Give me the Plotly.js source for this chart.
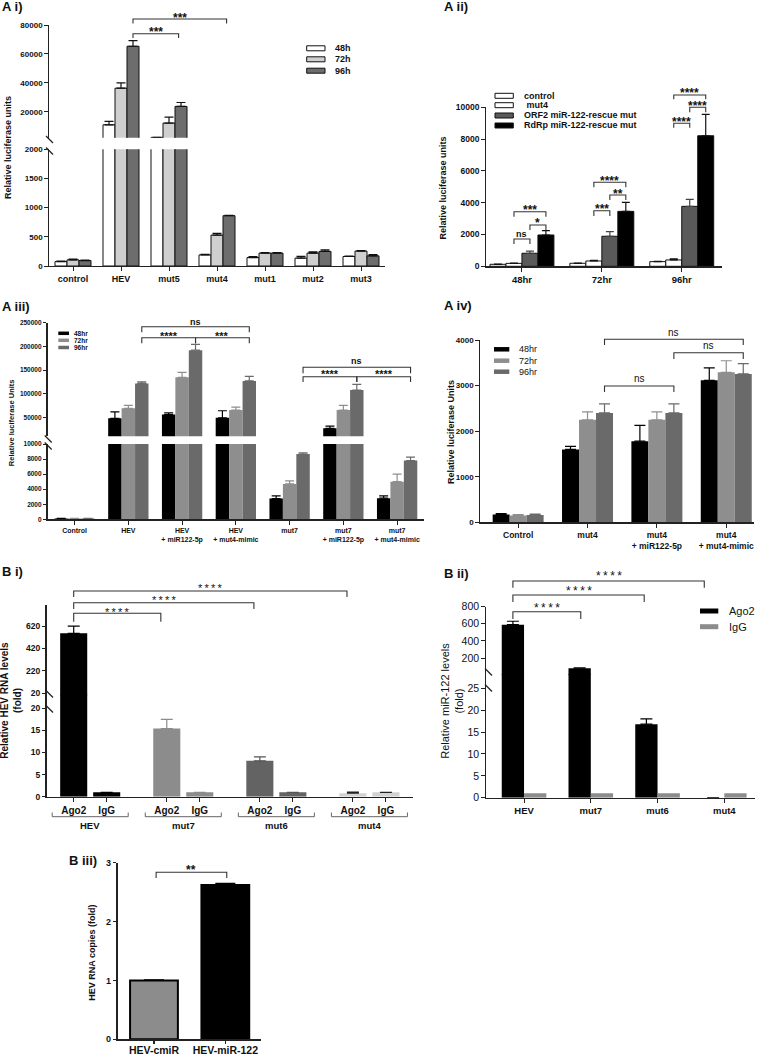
<!DOCTYPE html>
<html>
<head>
<meta charset="utf-8">
<script src="https://cdn.plot.ly/plotly-3.0.1.min.js"></script>
<style>html,body{margin:0;padding:0;background:#fff;}#chart{width:759px;height:1055px;}</style>
</head>
<body>
<div id="chart"></div>
<script>
// ================= DATA =================
// A i
const aiCats = ['control','HEV','mut5','mut4','mut1','mut2','mut3'];
const aiSeries = ['48h','72h','96h'];
const ai48 = [76, 11000, 2300, 190, 145, 135, 163];
const ai72 = [105, 36300, 12200, 530, 221, 221, 256];
const ai96 = [93, 65300, 23700, 862, 221, 250, 174];
const ai48Err = [6, 2300, 0, 8, 15, 30, 5];
const ai72Err = [12, 3700, 4100, 30, 8, 20, 10];
const ai96Err = [6, 3900, 2700, 8, 8, 25, 20];
const aiLowTicks = [0, 500, 1000, 1500, 2000];
const aiUpTicks = [20000, 40000, 60000, 80000];

// A ii
const aiiCats = ['48hr','72hr','96hr'];
const aiiSeries = ['control','mut4','ORF2 miR-122-rescue mut','RdRp miR-122-rescue mut'];
const aiiControl = [125, 190, 295];
const aiiMut4 = [185, 335, 400];
const aiiORF2 = [820, 1890, 3770];
const aiiRdRp = [1970, 3455, 8210];
const aiiControlErr = [10, 12, 15];
const aiiMut4Err = [12, 40, 70];
const aiiORF2Err = [140, 290, 440];
const aiiRdRpErr = [270, 565, 1340];
const aiiTicks = [0, 2000, 4000, 6000, 8000, 10000];

// A iii
const aiiiCats = ['Control','HEV','HEV<br>+ miR122-5p','HEV<br>+ mut4-mimic','mut7','mut7<br>+ miR122-5p','mut7<br>+ mut4-mimic'];
const aiiiSeries = ['48hr','72hr','96hr'];
const aiii48 = [120, 48000, 56300, 49000, 2750, 26800, 2800];
const aiii72 = [100, 69000, 134500, 65400, 4700, 65400, 5000];
const aiii96 = [110, 121700, 192000, 127000, 8670, 107600, 7800];
const aiii48Err = [15, 13800, 3500, 15000, 350, 4800, 300];
const aiii72Err = [15, 6500, 10500, 6300, 400, 9900, 1000];
const aiii96Err = [15, 3300, 12000, 9500, 170, 12000, 450];
const aiiiLowTicks = [0, 2000, 4000, 6000, 8000, 10000];
const aiiiUpTicks = [50000, 100000, 150000, 200000, 250000];

// A iv
const aivCats = ['Control','mut4','mut4<br>+ miR122-5p','mut4<br>+ mut4-mimic'];
const aivSeries = ['48hr','72hr','96hr'];
const aiv48 = [170, 1600, 1780, 3115];
const aiv72 = [150, 2250, 2250, 3290];
const aiv96 = [160, 2400, 2400, 3255];
const aiv48Err = [20, 65, 345, 275];
const aiv72Err = [20, 175, 175, 255];
const aiv96Err = [20, 200, 200, 225];
const aivTicks = [0, 1000, 2000, 3000, 4000];

// B i
const biGroups = ['HEV','mut7','mut6','mut4'];
const biPair = ['Ago2','IgG'];
const biAgo2 = [555, 15.4, 8.1, 0.8];
const biAgo2Err = [65, 2.1, 0.9, 0.25];
const biIgG = [1, 1, 1, 1];
const biLowTicks = [0, 5, 10, 15, 20];
const biUpTicks = [20, 220, 420, 620];

// B ii
const biiCats = ['HEV','mut7','mut6','mut4'];
const biiSeries = ['Ago2','IgG'];
const biiAgo2 = [590, 80, 16.8, 0];
const biiAgo2Err = [40, 6, 1.2, 0];
const biiIgG = [1, 1, 1, 1];
const biiLowTicks = [0, 5, 10, 15, 20, 25];
const biiUpTicks = [200, 400, 600, 800];

// B iii
const biiiCats = ['HEV-cmiR','HEV-miR-122'];
const biiiVals = [1.0, 2.62];
const biiiErr = [0.01, 0.03];
const biiiTicks = [0, 1, 2, 3];

// ================= HELPERS =================
const W = 759, H = 1055;
const FONT = '"Liberation Sans", Arial, Helvetica, sans-serif';
const px = v => v / W;
const py = v => 1 - v / H;
const fnt = (size, bold, color) => ({family: FONT, size: size, color: color || '#111', weight: bold ? 'bold' : 'normal'});

const traces = [], shapes = [], annotations = [];
const layout = {
  width: W, height: H, autosize: false,
  margin: {l: 0, r: 0, t: 0, b: 0, pad: 0},
  paper_bgcolor: '#ffffff', plot_bgcolor: 'rgba(0,0,0,0)',
  showlegend: false, barmode: 'overlay',
  font: {family: FONT, color: '#111'},
  shapes: shapes, annotations: annotations
};

function xp(g, v) { return g.x0 + (v - g.xr[0]) / (g.xr[1] - g.xr[0]) * (g.x1 - g.x0); }
// in the upper part of a broken axis, only the bars that pass the lower part are drawn
function above(vals, thr, ref) { return vals.map((v, i) => ((ref || vals)[i] > thr ? v : null)); }

function xAxis(g, anchor, extra) {
  return Object.assign({
    domain: [px(g.x0), px(g.x1)], range: g.xr, anchor: anchor,
    showline: true, linecolor: '#222', linewidth: 1.3,
    ticks: 'outside', ticklen: 4, tickwidth: 1, tickcolor: '#222',
    showgrid: false, zeroline: false, fixedrange: true, tickangle: 0
  }, extra);
}
function yAxis(seg, anchor, ticks, tfont, lw) {
  return {
    domain: [py(seg.y0), py(seg.y1)], range: seg.r, anchor: anchor,
    showline: true, linecolor: '#222', linewidth: lw || 1.3,
    ticks: 'outside', ticklen: 3.5, tickwidth: 1, tickcolor: '#222',
    showgrid: false, zeroline: false, fixedrange: true,
    tickmode: 'array', tickvals: ticks, ticktext: ticks.map(String), tickfont: tfont
  };
}
function bars(o) {
  // no error bar for empty (zero / hidden) bars
  const err = o.err ? o.err.map((e, i) => (o.y[i] ? e : null)) : null;
  traces.push({
    type: 'bar', name: o.name, x: o.x, y: o.y, width: o.w, offset: o.off,
    xaxis: o.xa, yaxis: o.ya, hoverinfo: 'skip', showlegend: false,
    marker: {color: o.fill, line: {color: o.edge || '#000', width: o.edgeW || 0}},
    error_y: err ? {type: 'data', symmetric: false, array: err, arrayminus: err.map(e => (e === null ? null : 0)),
      color: o.ec, thickness: 1.2, width: o.cap, visible: true} : {visible: false}
  });
}
function text(x, y, t, size, bold, opts) {
  annotations.push(Object.assign({xref: 'paper', yref: 'paper', x: px(x), y: py(y), text: t,
    showarrow: false, xanchor: 'center', yanchor: 'middle', font: fnt(size, bold)}, opts || {}));
}
function bracket(g, a, b, yLine, yEnd, label, yLab, size, bold) {
  const x1 = xp(g, a), x2 = xp(g, b);
  shapes.push({type: 'path', xref: 'paper', yref: 'paper',
    path: 'M' + px(x1) + ',' + py(yEnd) + 'L' + px(x1) + ',' + py(yLine) + 'L' + px(x2) + ',' + py(yLine) + 'L' + px(x2) + ',' + py(yEnd),
    line: {color: '#333', width: 1.1}});
  const star = label.indexOf('*') >= 0;
  text((x1 + x2) / 2, yLab + (star ? 0.24 * size : -0.08 * size), label, size, bold);
}
function brk(x, y) {
  shapes.push({type: 'line', xref: 'paper', yref: 'paper', x0: px(x - 3), y0: py(y - 3.5), x1: px(x + 4), y1: py(y + 3.5),
    line: {color: '#222', width: 1.2}});
}
function legendBox(x0, x1, yc, h, fill, edge) {
  shapes.push({type: 'rect', xref: 'paper', yref: 'paper', x0: px(x0), x1: px(x1), y0: py(yc + h / 2), y1: py(yc - h / 2),
    fillcolor: fill, line: {color: edge || fill, width: edge ? 1 : 0}});
}

// ================= A i =================
const gAi = {x0: 49, x1: 385, xr: [-0.5, 6.5], low: {y0: 266, y1: 149.3, r: [0, 2000]}, up: {y0: 137.7, y1: 25, r: [2070, 80000]}};
layout.xaxis = xAxis(gAi, 'y', {type: 'category', categoryarray: aiCats, tickfont: fnt(9, true)});
layout.yaxis = yAxis(gAi.low, 'x', aiLowTicks, fnt(8, true));
layout.yaxis2 = yAxis(gAi.up, 'x', aiUpTicks, fnt(8, true));
const aiVals = [ai48, ai72, ai96], aiErrs = [ai48Err, ai72Err, ai96Err];
const aiFill = ['#ffffff', '#cfcfcf', '#6d6d6d'];
aiSeries.forEach((s, i) => {
  const base = {name: s, x: aiCats, fill: aiFill[i], edge: '#111', edgeW: 1, w: 0.25, off: -0.375 + 0.25 * i, xa: 'x', ec: '#111', cap: 4.5};
  bars(Object.assign({}, base, {y: aiVals[i], err: aiErrs[i], ya: 'y'}));
  bars(Object.assign({}, base, {y: above(aiVals[i], gAi.low.r[1]), err: above(aiErrs[i], gAi.low.r[1], aiVals[i]), ya: 'y2'}));
});
aiSeries.forEach((s, i) => { const yc = [48.3, 59.3, 70.7][i]; legendBox(306.7, 325, yc, 5, aiFill[i], '#111'); text(333, yc, s, 9, true, {xanchor: 'left'}); });
bracket(gAi, 1.25, 3.2, 19, 23.5, '***', 14.7, 12, true);
bracket(gAi, 1.25, 2.2, 33.7, 38, '***', 29.3, 12, true);
brk(49, 139.5); brk(49, 151);
text(7.5, 147.5, 'Relative luciferase units', 9, true, {textangle: -90});
text(0, 7, 'A i)', 13, true, {xanchor: 'left'});

// ================= A ii =================
const gAii = {x0: 486, x1: 721.7, xr: [-0.45, 2.5], y0: 266.3, y1: 107.3, r: [0, 10000]};
layout.xaxis2 = xAxis(gAii, 'y3', {type: 'category', categoryarray: aiiCats, tickfont: fnt(9.5, true)});
layout.yaxis3 = yAxis(gAii, 'x2', aiiTicks, fnt(8.5, true));
const aiiVals = [aiiControl, aiiMut4, aiiORF2, aiiRdRp], aiiErrs = [aiiControlErr, aiiMut4Err, aiiORF2Err, aiiRdRpErr];
const aiiFill = ['#ffffff', '#ffffff', '#5a5a5a', '#000000'];
const aiiErrCol = ['#111', '#111', '#444', '#111'];
aiiSeries.forEach((s, i) => bars({name: s, x: aiiCats, y: aiiVals[i], err: aiiErrs[i], fill: aiiFill[i], edge: '#111', edgeW: 1,
  w: 0.2, off: -0.4 + 0.2 * i, xa: 'x2', ya: 'y3', ec: aiiErrCol[i], cap: 4}));
aiiSeries.forEach((s, i) => { const yc = [95.8, 105.2, 115.5, 125.5][i]; legendBox(495, 513.3, yc, 5, aiiFill[i], '#111');
  text(521.7, yc, (i === 1 ? '\u00a0' : '') + s, 9, true, {xanchor: 'left'}); });
[0, 1, 2].forEach(c => {
  const L = [[239, 244, 235, 211.7, 216.7, 206.7, 225, 230, 220.5, 'ns', '*', '***'],
             [210.7, 216, 206, 182.3, 187.3, 178.3, 195, 200, 190.7, '***', '**', '****'],
             [123.3, 127.7, 118.7, 95, 99.3, 90, 107.3, 112.3, 102.7, '****', '****', '****']][c];
  bracket(gAii, c - 0.1, c + 0.1, L[0], L[1], L[9], L[2], L[9] === 'ns' ? 9 : 12, true);
  bracket(gAii, c + 0.1, c + 0.3, L[6], L[7], L[10], L[8], 12, true);
  bracket(gAii, c - 0.1, c + 0.3, L[3], L[4], L[11], L[5], 12, true);
});
text(443.3, 188.3, 'Relative luciferase units', 9, true, {textangle: -90});
text(441.7, 7, 'A ii)', 13, true, {xanchor: 'left'});

// ================= A iii =================
const gAiii = {x0: 47.7, x1: 424, xr: [-0.5, 6.5], low: {y0: 519.3, y1: 444, r: [0, 10000]}, up: {y0: 436.3, y1: 322.7, r: [10000, 250000]}};
layout.xaxis3 = xAxis(gAiii, 'y4', {type: 'category', categoryarray: aiiiCats, tickfont: fnt(7, true)});
layout.yaxis4 = yAxis(gAiii.low, 'x3', aiiiLowTicks, fnt(6.5, true));
layout.yaxis5 = yAxis(gAiii.up, 'x3', aiiiUpTicks, fnt(6.5, true));
const aiiiVals = [aiii48, aiii72, aiii96], aiiiErrs = [aiii48Err, aiii72Err, aiii96Err];
const tFill = ['#000000', '#8e8e8e', '#6a6a6a'];
aiiiSeries.forEach((s, i) => {
  const base = {name: s, x: aiiiCats, fill: tFill[i], w: 0.25, off: -0.375 + 0.25 * i, xa: 'x3', ec: tFill[i], cap: 4.5};
  bars(Object.assign({}, base, {y: aiiiVals[i], err: aiiiErrs[i], ya: 'y4'}));
  bars(Object.assign({}, base, {y: above(aiiiVals[i], gAiii.low.r[1]), err: above(aiiiErrs[i], gAiii.low.r[1], aiiiVals[i]), ya: 'y5'}));
});
aiiiSeries.forEach((s, i) => { const yc = [333.3, 340.3, 347.5][i]; legendBox(58.3, 69, yc, 3.5, tFill[i]); text(71.7, yc, s, 6.5, true, {xanchor: 'left'}); });
bracket(gAiii, 1.25, 3.25, 326.7, 332.3, 'ns', 322.3, 9, true);
bracket(gAiii, 1.25, 2.25, 337.7, 343.3, '****', 333.3, 11, true);
bracket(gAiii, 2.25, 3.25, 337.7, 343.3, '***', 333.3, 11, true);
bracket(gAiii, 4.25, 6.25, 367.3, 373.3, 'ns', 361.7, 9, true);
bracket(gAiii, 4.25, 5.25, 376.7, 382, '****', 371.7, 11, true);
bracket(gAiii, 5.25, 6.25, 376.7, 382, '****', 371.7, 11, true);
brk(47.7, 439); brk(47.7, 446);
text(11.7, 422.5, 'Relative luciferase Units', 7.5, true, {textangle: -90});
text(0, 306.7, 'A iii)', 13, true, {xanchor: 'left'});

// ================= A iv =================
const gAiv = {x0: 480, x1: 754, xr: [-0.55, 3.4], y0: 522.3, y1: 340, r: [0, 4000]};
layout.xaxis4 = xAxis(gAiv, 'y6', {type: 'category', categoryarray: aivCats, tickfont: fnt(8.5, true)});
layout.yaxis6 = yAxis(gAiv, 'x4', aivTicks, fnt(8, true));
const aivVals = [aiv48, aiv72, aiv96], aivErrs = [aiv48Err, aiv72Err, aiv96Err];
aivSeries.forEach((s, i) => bars({name: s, x: aivCats, y: aivVals[i], err: aivErrs[i], fill: tFill[i],
  w: 0.245, off: -0.3675 + 0.245 * i, xa: 'x4', ya: 'y6', ec: tFill[i], cap: 5.5}));
aivSeries.forEach((s, i) => { const yc = [349.3, 360.7, 371.7][i]; legendBox(494, 509.3, yc, 4.5, tFill[i]); text(516.7, yc, s, 9, false, {xanchor: 'left'}); });
bracket(gAiv, 1.245, 3.245, 339.3, 345, 'ns', 333.3, 10, false);
bracket(gAiv, 2.245, 3.245, 352.7, 359, 'ns', 346.7, 10, false);
bracket(gAiv, 1.245, 2.245, 386, 392, 'ns', 379.3, 10, false);
text(450.5, 432.5, 'Relative luciferase Units', 9, true, {textangle: -90});
text(441.7, 305, 'A iv)', 13, true, {xanchor: 'left'});

// ================= B i =================
const gBi = {x0: 46.7, x1: 413, xr: [-0.818, 10.28], low: {y0: 796.7, y1: 694.5, r: [0, 23.1]}, up: {y0: 695.5, y1: 605, r: [0, 808]}};
const biStep = 2.82;
const biPos = [], biTxt = [];
biGroups.forEach((g, k) => biPair.forEach((p, j) => { biPos.push(k * biStep + j); biTxt.push(p); }));
layout.xaxis5 = xAxis(gBi, 'y7', {type: 'linear', tickmode: 'array', tickvals: biPos, ticktext: biTxt, tickfont: fnt(10, true)});
layout.yaxis7 = yAxis(gBi.low, 'x5', biLowTicks, fnt(8.5, true));
layout.yaxis8 = yAxis(gBi.up, 'x5', biUpTicks, fnt(8.5, true));
const biFill = ['#000000', '#8c8c8c', '#636363', '#d2d2d2'];
const biErrCol = ['#000000', '#8c8c8c', '#555555', '#222222'];
biGroups.forEach((g, k) => {
  const vals = [biAgo2[k], biIgG[k]], errs = [biAgo2Err[k], 0];
  const base = {name: g, x: [k * biStep, k * biStep + 1], fill: biFill[k], w: 0.82, off: -0.41, xa: 'x5', ec: biErrCol[k], cap: 6};
  bars(Object.assign({}, base, {y: vals, err: errs, ya: 'y7'}));
  bars(Object.assign({}, base, {y: above(vals, gBi.low.r[1]), err: above(errs, gBi.low.r[1], vals), ya: 'y8'}));
});
biGroups.forEach((g, k) => {
  const c = xp(gBi, k * biStep + 0.5);
  shapes.push({type: 'path', xref: 'paper', yref: 'paper',
    path: 'M' + px(c - 38) + ',' + py(812.5) + 'L' + px(c - 38) + ',' + py(816.7) + 'L' + px(c + 38) + ',' + py(816.7) + 'L' + px(c + 38) + ',' + py(812.5),
    line: {color: '#666', width: 1}});
  text(c, 825.5, g, 9.5, true);
});
const S4 = '*\u2009*\u2009*\u2009*';
bracket(gBi, 0, 2.64, 613.3, 621.7, S4, 609.5, 11, false);
bracket(gBi, 0, 5.46, 602.7, 609, S4, 597.7, 11, false);
bracket(gBi, 0, 8.28, 591, 597, S4, 585, 11, false);
brk(49, 694); brk(49, 709);
text(11, 700.7, 'Relative HEV RNA levels<br>(fold)', 10, true, {textangle: -90});
text(0, 571, 'B i)', 13, true, {xanchor: 'left'});

// ================= B ii =================
const gBii = {x0: 486, x1: 755, xr: [-0.57, 3.46], low: {y0: 797.7, y1: 674.1, r: [0, 28.25]}, up: {y0: 675.1, y1: 606.7, r: [0, 800]}};
layout.xaxis6 = xAxis(gBii, 'y9', {type: 'category', categoryarray: biiCats, tickfont: fnt(9.5, true)});
layout.yaxis9 = yAxis(gBii.low, 'x6', biiLowTicks, fnt(10.5, false));
layout.yaxis10 = yAxis(gBii.up, 'x6', biiUpTicks, fnt(10.5, false));
const biiVals = [biiAgo2, biiIgG], biiErrs = [biiAgo2Err, null];
const biiFill = ['#000000', '#8c8c8c'];
biiSeries.forEach((s, i) => {
  const base = {name: s, x: biiCats, fill: biiFill[i], w: 0.334, off: -0.334 + 0.334 * i, xa: 'x6', ec: biiFill[i], cap: 6};
  bars(Object.assign({}, base, {y: biiVals[i], err: biiErrs[i], ya: 'y9'}));
  bars(Object.assign({}, base, {y: above(biiVals[i], gBii.low.r[1]), err: biiErrs[i] ? above(biiErrs[i], gBii.low.r[1], biiVals[i]) : null, ya: 'y10'}));
});
biiSeries.forEach((s, i) => { const yc = [611, 626.7][i]; legendBox(700, 718.3, yc, 5, biiFill[i]); text(726.7, yc, s, 11, false, {xanchor: 'left'}); });
bracket(gBii, -0.167, 0.85, 611.7, 619, S4, 605, 12, false);
bracket(gBii, -0.167, 1.8, 595, 602, S4, 588, 12, false);
bracket(gBii, -0.167, 2.7, 581, 587.7, S4, 573.3, 12, false);
brk(488, 672); brk(488, 688);
text(452, 700.8, 'Relative miR-122 levels<br>(fold)', 11, false, {textangle: -90});
text(441.7, 573.3, 'B ii)', 13, true, {xanchor: 'left'});

// ================= B iii =================
const gBiii = {x0: 118.3, x1: 261, xr: [-0.5, 1.5], y0: 1039.3, y1: 862.7, r: [0, 3]};
layout.xaxis7 = xAxis(gBiii, 'y11', {type: 'category', categoryarray: biiiCats, tickfont: fnt(10.5, true),
  linewidth: 2, tickwidth: 1.5, ticklen: 3, ticklabelstandoff: -3});
layout.yaxis11 = yAxis(gBiii, 'x7', biiiTicks, fnt(9, true), 2);
bars({name: 'B iii', x: biiiCats, y: biiiVals, err: biiiErr, fill: ['#8c8c8c', '#000000'], edge: '#000', edgeW: 2,
  w: 0.67, off: -0.335, xa: 'x7', ya: 'y11', ec: '#000', cap: 10});
bracket(gBiii, 0.03, 1.02, 872.3, 878, '**', 866.7, 12, true);
text(91.7, 953, 'HEV RNA copies (fold)', 9, true, {textangle: -90});
text(66.7, 860, 'B iii)', 13, true, {xanchor: 'left'});

Plotly.newPlot('chart', traces, layout, {staticPlot: true, displayModeBar: false});
</script>
</body>
</html>
